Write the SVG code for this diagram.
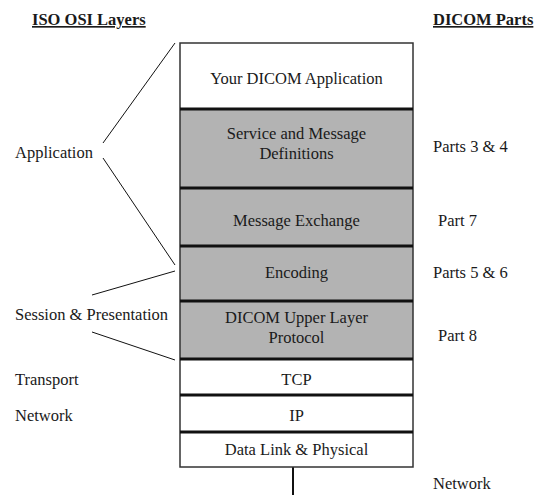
<svg xmlns="http://www.w3.org/2000/svg" width="536" height="495" viewBox="0 0 536 495">
<style>
text{font-family:"Liberation Serif","Times New Roman",serif;font-size:16.5px;fill:#1a1a1a}
.c{text-anchor:middle}
.h{font-weight:bold;text-decoration:underline}
.g{fill:#b3b3b3}
.w{fill:#ffffff}
.sep{stroke:#111;stroke-width:3}
.brk{stroke:#111;stroke-width:1;fill:none}
</style>
<rect width="536" height="495" fill="#ffffff"/>
<text class="h" x="32" y="25">ISO OSI Layers</text>
<text class="h" x="433" y="25">DICOM Parts</text>

<g id="connectors">
<polyline class="brk" points="175,43 103,143"/>
<polyline class="brk" points="103,158 175,265"/>
<polyline class="brk" points="175,271 92,295"/>
<polyline class="brk" points="92,332 175,360"/>
<line x1="293" y1="467" x2="293" y2="495" stroke="#111" stroke-width="2"/>
</g>

<g id="stack">
<g id="app"><rect class="w" x="180" y="43" width="233" height="66"/><text class="c" x="296.5" y="84">Your DICOM Application</text></g>
<g id="service"><rect class="g" x="180" y="109" width="233" height="79"/><text class="c" x="296.5" y="139">Service and Message</text><text class="c" x="296.5" y="159">Definitions</text></g>
<g id="msgex"><rect class="g" x="180" y="188" width="233" height="58"/><text class="c" x="296.5" y="226">Message Exchange</text></g>
<g id="encoding"><rect class="g" x="180" y="246" width="233" height="55"/><text class="c" x="296.5" y="278">Encoding</text></g>
<g id="upper"><rect class="g" x="180" y="301" width="233" height="58"/><text class="c" x="296.5" y="323">DICOM Upper Layer</text><text class="c" x="296.5" y="343">Protocol</text></g>
<g id="tcp"><rect class="w" x="180" y="359" width="233" height="36"/><text class="c" x="296.5" y="385">TCP</text></g>
<g id="ip"><rect class="w" x="180" y="395" width="233" height="37"/><text class="c" x="296.5" y="421">IP</text></g>
<g id="datalink"><rect class="w" x="180" y="432" width="233" height="35"/><text class="c" x="296.5" y="455">Data Link &amp; Physical</text></g>
<rect x="180" y="43" width="233" height="424" fill="none" stroke="#333" stroke-width="1.5"/>
<line class="sep" x1="180" y1="109" x2="413" y2="109"/>
<line class="sep" x1="180" y1="188" x2="413" y2="188"/>
<line class="sep" x1="180" y1="246" x2="413" y2="246"/>
<line class="sep" x1="180" y1="301" x2="413" y2="301"/>
<line class="sep" x1="180" y1="359" x2="413" y2="359"/>
<line class="sep" x1="180" y1="395" x2="413" y2="395"/>
<line class="sep" x1="180" y1="432" x2="413" y2="432"/>
</g>

<g id="osi-labels">
<text x="15" y="158">Application</text>
<text x="15" y="320">Session &amp; Presentation</text>
<text x="15" y="385">Transport</text>
<text x="15" y="421">Network</text>
</g>

<g id="dicom-parts">
<text x="433" y="152">Parts 3 &amp; 4</text>
<text x="438" y="226">Part 7</text>
<text x="433" y="278">Parts 5 &amp; 6</text>
<text x="438" y="341">Part 8</text>
<text x="433" y="489">Network</text>
</g>
</svg>
